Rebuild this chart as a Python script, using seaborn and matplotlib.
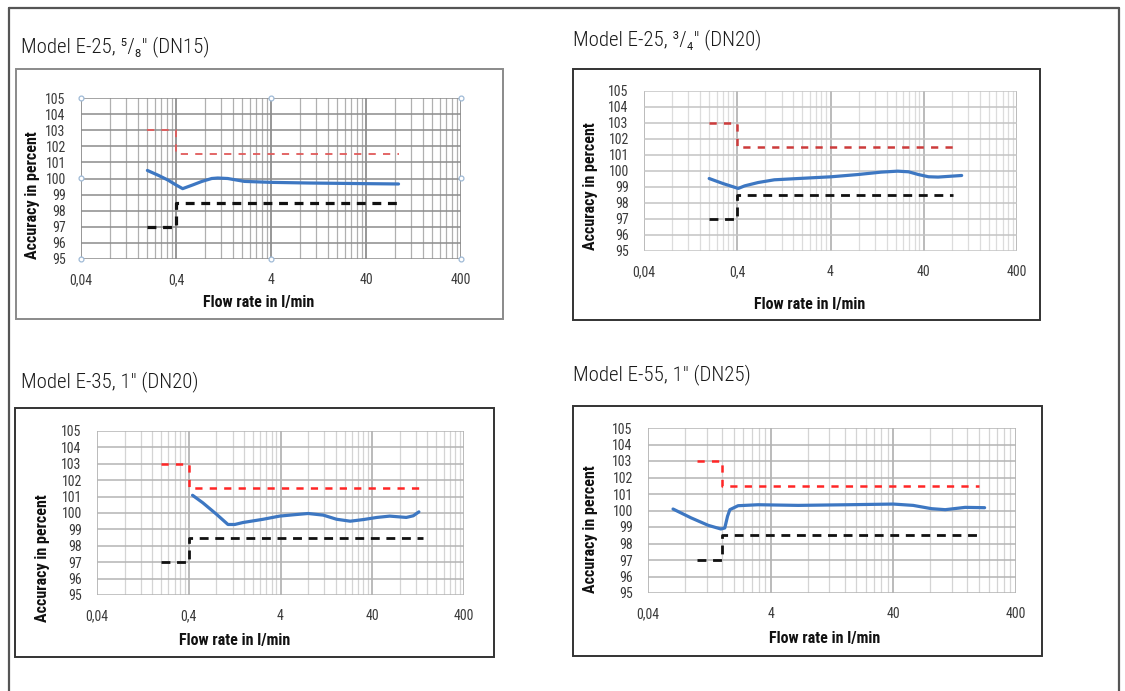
import matplotlib
matplotlib.use("Agg")
import matplotlib.pyplot as plt
import matplotlib.ticker as mticker
from matplotlib.patches import Rectangle
from matplotlib.lines import Line2D
import seaborn as sns

# ---- data ----
titles = ["Model E-25, \u2075/\u2088\u2033 (DN15)", "Model E-25, \u00b3/\u2084\u2033 (DN20)",
          "Model E-35, 1\u2033 (DN20)", "Model E-55, 1\u2033 (DN25)"]

# E-25 5/8"
e25a_x = [0.2, 0.26, 0.33, 0.4, 0.47, 0.6, 0.75, 0.95, 1.1, 1.4, 2.1, 4, 10, 40, 88]
e25a_y = [100.5, 100.2, 99.9, 99.6, 99.37, 99.6, 99.82, 100.0, 100.03, 100.0, 99.82, 99.76, 99.72, 99.68, 99.66]
e25a_lim_x = [0.2, 0.4, 88]

# E-25 3/4"
e25b_x = [0.2, 0.28, 0.41, 0.48, 0.67, 1.0, 1.8, 4.1, 7.9, 14, 21, 27.5, 35, 45, 57, 102]
e25b_y = [99.53, 99.22, 98.91, 99.07, 99.28, 99.45, 99.53, 99.64, 99.78, 99.93, 99.99, 99.95, 99.78, 99.64, 99.62, 99.72]
e25b_lim_x = [0.2, 0.4, 83]

# E-35 1"
e35_x = [0.44, 0.57, 0.8, 1.07, 1.27, 1.56, 2.6, 3.9, 5.5, 8.0, 11.7, 16.3, 23, 32, 45, 62, 94, 112, 129]
e35_y = [101.08, 100.62, 99.93, 99.3, 99.3, 99.42, 99.62, 99.81, 99.89, 99.97, 99.87, 99.62, 99.5, 99.6,
         99.73, 99.81, 99.73, 99.83, 100.07]
e35_lim_x = [0.2, 0.4, 144]

# E-55 1"  (x axis of this chart is labelled 0,04 - 4 - 40 - 400 over three decades)
e55_x = [0.64, 0.9, 1.24, 1.57, 1.69, 1.78, 1.86, 2.17, 3.16, 6.7, 17.2, 40, 58, 82, 106, 154, 222]
e55_y = [100.09, 99.55, 99.1, 98.88, 98.94, 99.65, 100.05, 100.29, 100.35, 100.31, 100.35, 100.39,
         100.31, 100.11, 100.05, 100.19, 100.17]
e55_lim_x = [1.0, 1.6, 200]

upper_lim = [103, 101.5, 101.5]
lower_lim = [97, 98.5, 98.5]

x_ticks_std = [0.04, 0.4, 4, 40, 400]
x_labels_std = ["0,04", "0,4", "4", "40", "400"]
x_ticks_e55 = [0.4, 4, 40, 400]
x_labels_e55 = ["0,04", "4", "40", "400"]
y_ticks = list(range(95, 106))

W, H = 1125, 691
sns.set_style("white")
plt.rcParams["font.family"] = ["Roboto Condensed", "Liberation Sans Narrow", "DejaVu Sans"]

fig = plt.figure(figsize=(W / 100, H / 100), dpi=100)


def fig_rect(l, t, r, b):
    return [l / W, 1 - b / H, (r - l) / W, (b - t) / H]


def box(l, t, r, b, color, lw):
    fig.patches.append(Rectangle((l / W, 1 - b / H), (r - l) / W, (b - t) / H, transform=fig.transFigure,
                                 fill=False, ec=color, lw=lw, zorder=0))


# outer frame (open at the bottom)
for xs, ys in [([9, 9], [691, 8]), ([9, 1119], [8, 8]), ([1119, 1119], [8, 691])]:
    fig.lines.append(Line2D([x / W for x in xs], [1 - y / H for y in ys], transform=fig.transFigure,
                            color="#555555", lw=1.6))

panels = [
    dict(title=titles[0], tpos=(21, 47), box=(16, 69, 503, 319), boxc="#8a8a8a", area=(81, 98, 461, 259),
         x=e25a_x, y=e25a_y, lim=e25a_lim_x, xlim=(0.04, 400), ticks=x_ticks_std, labels=x_labels_std,
         xl=(259, 302), yl=(32, 195), hc="#8c8c8c", mj="#7a7a7a", mn="#b0b0b0", red="#e05a5a", rlw=1.3,
         blw=2.3, handles=True),
    dict(title=titles[1], tpos=(573, 40), box=(573, 69, 1040, 320), boxc="#333333", area=(644, 91, 1017, 251),
         x=e25b_x, y=e25b_y, lim=e25b_lim_x, xlim=(0.04, 400), ticks=x_ticks_std, labels=x_labels_std,
         xl=(810, 305), yl=(590, 186), hc="#c4c4c4", mj="#a8a8a8", mn="#dcdcdc", red="#cc3b3b", rlw=1.8,
         blw=2.0, handles=False),
    dict(title=titles[2], tpos=(21, 382), box=(15, 408, 494, 657), boxc="#333333", area=(97, 431, 464, 595),
         x=e35_x, y=e35_y, lim=e35_lim_x, xlim=(0.04, 400), ticks=x_ticks_std, labels=x_labels_std,
         xl=(235, 641), yl=(43, 558), hc="#b4b4b4", mj="#a8a8a8", mn="#d4d4d4", red="#ff2626", rlw=1.8,
         blw=2.0, handles=False),
    dict(title=titles[3], tpos=(573, 375), box=(573, 406, 1042, 656), boxc="#333333", area=(648, 428, 1016, 593),
         x=e55_x, y=e55_y, lim=e55_lim_x, xlim=(0.4, 400), ticks=x_ticks_e55, labels=x_labels_e55,
         xl=(825, 638), yl=(590, 529), hc="#b4b4b4", mj="#a8a8a8", mn="#d4d4d4", red="#ff2626", rlw=1.8,
         blw=2.0, handles=False),
]

for p in panels:
    box(*p["box"], p["boxc"], 1.4)
    fig.text(p["tpos"][0] / W, 1 - p["tpos"][1] / H, p["title"], fontsize=15, fontweight="light",
             color="#1a1a1a", ha="left", va="center")

    ax = fig.add_axes(fig_rect(*p["area"]))
    ax.set_xscale("log")
    x0, x1 = p["xlim"]
    ax.set_xlim(x0, x1)
    ax.set_ylim(95, 105)

    # Excel style gridlines: decades counted from the axis start, minor lines at its multiples
    minors = [x0 * k * 10 ** d for d in range(4) for k in range(2, 10) if x0 * k * 10 ** d < x1]
    ax.xaxis.set_minor_locator(mticker.FixedLocator(minors))
    ax.xaxis.set_minor_formatter(mticker.NullFormatter())
    ax.set_xticks(p["ticks"])
    ax.set_xticklabels(p["labels"])
    ax.set_yticks(y_ticks)
    ax.grid(which="major", axis="y", color=p["hc"], lw=1.1)
    ax.grid(which="major", axis="x", color=p["mj"], lw=1.1)
    ax.grid(which="minor", axis="x", color=p["mn"], lw=0.9)
    ax.set_axisbelow(True)
    for s in ax.spines.values():
        s.set_visible(False)
    ax.tick_params(axis="y", which="major", labelsize=10, labelcolor="#3a3a3a", length=4, width=1.0,
                   color=p["mj"], pad=7)
    ax.tick_params(axis="x", which="major", labelsize=10, labelcolor="#3a3a3a", length=4, width=1.0,
                   color=p["mj"], pad=6)
    ax.tick_params(which="minor", length=0)

    # limit lines
    sns.lineplot(x=p["lim"], y=upper_lim, ax=ax, color=p["red"], lw=p["rlw"], drawstyle="steps-post",
                 linestyle=(0, (5.2 / p["rlw"], 5.2 / p["rlw"])), sort=False, estimator=None)
    sns.lineplot(x=p["lim"], y=lower_lim, ax=ax, color="#111111", lw=p["blw"], drawstyle="steps-post",
                 linestyle=(0, (6.4 / p["blw"], 4.8 / p["blw"])), sort=False, estimator=None)
    # measured accuracy
    sns.lineplot(x=p["x"], y=p["y"], ax=ax, color="#3d77c2", lw=2.3, sort=False, estimator=None)

    ax.set_xlabel("")
    ax.set_ylabel("")
    fig.text(p["xl"][0] / W, 1 - p["xl"][1] / H, "Flow rate in l/min", fontsize=11.5, fontweight="bold",
             ha="center", va="center", color="#111111")
    fig.text(p["yl"][0] / W, 1 - p["yl"][1] / H, "Accuracy in percent", fontsize=11.5, fontweight="bold",
             ha="center", va="center", rotation=90, color="#111111")

    if p["handles"]:
        hx = [0, 0.5, 1, 0, 1, 0, 0.5, 1]
        hy = [1, 1, 1, 0.5, 0.5, 0, 0, 0]
        ax.plot(hx, hy, ls="none", marker="o", ms=3.5, mfc="white", mec="#9fbad6", mew=0.9,
                transform=ax.transAxes, clip_on=False)

fig.savefig("out.png", dpi=100, facecolor="white")
